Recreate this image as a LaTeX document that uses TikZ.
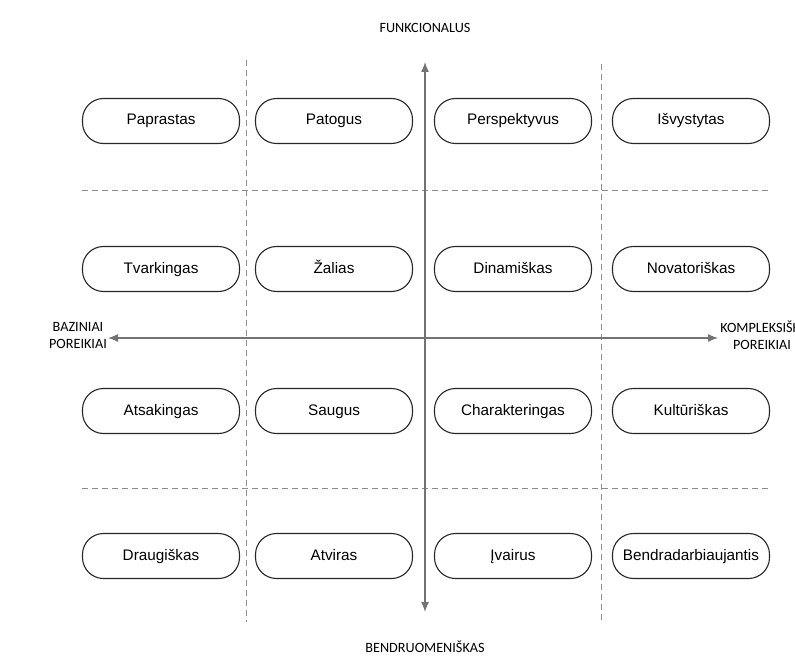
\documentclass[tikz,border=0pt]{standalone}
\usepackage{fontspec}
\setmainfont{Liberation Sans}
\newfontfamily\axisfont{Carlito}
\usetikzlibrary{arrows.meta}
\begin{document}
\begin{tikzpicture}[x=1pt, y=-1pt,
  every node/.style = {font=\fontsize{15.3}{18}\selectfont},
  pill/.style = {shape=rectangle, rounded corners=21pt, draw=black!85,
    line width=1.1pt, minimum width=157pt, minimum height=45pt, inner sep=0pt,
    text height=11pt, text depth=3pt},
  axislabel/.style = {font=\axisfont\fontsize{14.2}{17}\selectfont, align=center, text=black},
  axis/.style = {draw=black!55, line width=1.3pt, {Latex[length=10pt,width=8pt]}-{Latex[length=10pt,width=8pt]}},
  grid/.style = {draw=black!45, line width=0.9pt, dash pattern=on 6pt off 4pt}]
  \useasboundingbox (0,0) rectangle (795,658);
  % dashed separators
  \draw[grid] (246,60) -- (246,622);
  \draw[grid] (601,64) -- (601,622);
  \draw[grid] (82,190) -- (770,190);
  \draw[grid] (82,488) -- (770,488);
  % axes
  \coordinate (top) at (425,62);
  \coordinate (bottom) at (425,612);
  \coordinate (left) at (108,338);
  \coordinate (right) at (718,338);
  \draw[axis] (bottom) -- (top);
  \draw[axis] (left) -- (right);
  \node[axislabel] (funk) at (425,28) {FUNKCIONALUS};
  \node[axislabel] (bendr) at (425,647) {BENDRUOMENIŠKAS};
  \node[axislabel] (baz) at (78,335) {BAZINIAI\\POREIKIAI};
  \node[axislabel] (kompl) at (762,335) {KOMPLEKSIŠKI\\POREIKIAI};
  % row 1
  \node[pill] (paprastas) at (161,121) {Paprastas};
  \node[pill] (patogus) at (334,121) {Patogus};
  \node[pill] (perspektyvus) at (513,121) {Perspektyvus};
  \node[pill] (isvystytas) at (691,121) {Išvystytas};
  % row 2
  \node[pill] (tvarkingas) at (161,269) {Tvarkingas};
  \node[pill] (zalias) at (334,269) {Žalias};
  \node[pill] (dinamiskas) at (513,269) {Dinamiškas};
  \node[pill] (novatoriskas) at (691,269) {Novatoriškas};
  % row 3
  \node[pill] (atsakingas) at (161,411) {Atsakingas};
  \node[pill] (saugus) at (334,411) {Saugus};
  \node[pill] (charakteringas) at (513,411) {Charakteringas};
  \node[pill] (kulturiskas) at (691,411) {Kultūriškas};
  % row 4
  \node[pill] (draugiskas) at (161,556) {Draugiškas};
  \node[pill] (atviras) at (334,556) {Atviras};
  \node[pill] (ivairus) at (513,556) {Įvairus};
  \node[pill] (bendradarbiaujantis) at (691,556) {Bendradarbiaujantis};
\end{tikzpicture}
\end{document}
